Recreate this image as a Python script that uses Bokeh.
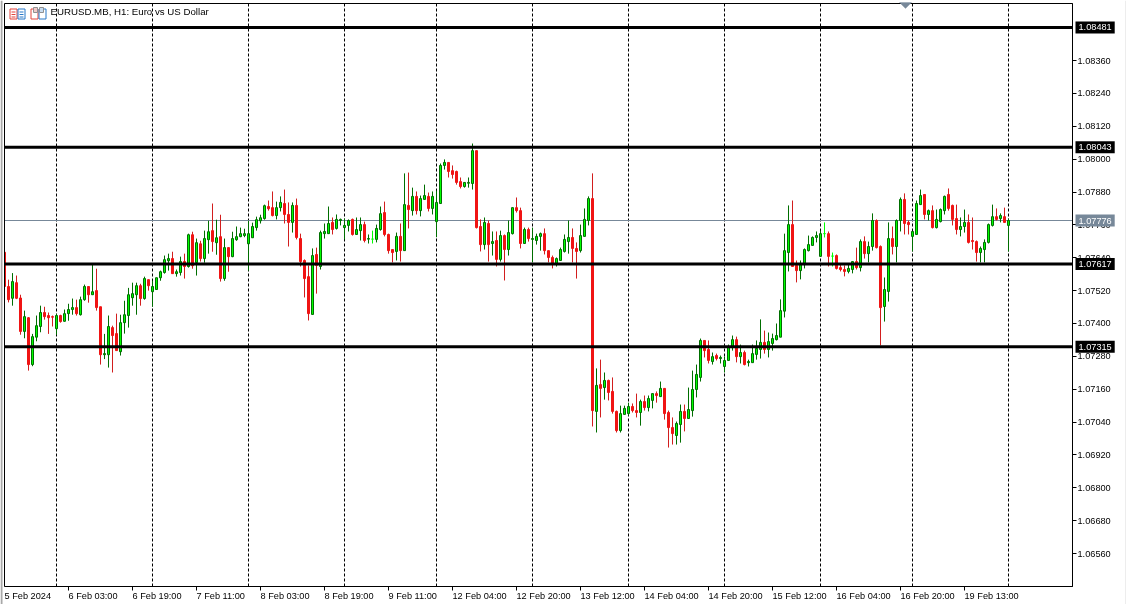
from bokeh.plotting import figure
from bokeh.models import (ColumnDataSource, Range1d, Label, LabelSet, FixedTicker,
                          BoxAnnotation, PolyAnnotation, NumeralTickFormatter)
from bokeh.core.properties import value
from bokeh.embed import file_html
from bokeh.resources import INLINE
import numpy as np

# Prices in points (1e-5); first bar is index -1
highs = [
107666,107560,107584,107575,107505,107447,107423,107362,107429,107465,
107461,107440,107429,107435,107432,107451,107472,107491,107487,107498,
107542,107535,107615,107600,107461,107362,107429,107392,107436,107432,
107483,107530,107549,107549,107545,107571,107560,107556,107567,107593,
107648,107655,107662,107597,107644,107655,107728,107735,107710,107702,
107739,107775,107838,107779,107797,107710,107677,107735,107754,107750,
107746,107775,107768,107790,107797,107834,107849,107882,107845,107864,
107889,107842,107842,107856,107728,107634,107612,107674,107677,107739,
107765,107827,107787,107798,107783,107783,107780,107783,107787,107787,
107772,107725,107739,107761,107827,107845,107728,107670,107732,107765,
107948,107951,107896,107882,107867,107907,107878,107882,107885,107984,
107999,107988,107977,107958,107933,107915,107933,108057,108031,107780,
107787,107776,107736,107736,107739,107725,107776,107823,107860,107823,
107750,107750,107750,107728,107732,107747,107666,107648,107641,107677,
107725,107776,107747,107696,107761,107820,107864,107948,107236,107268,
107221,107195,107203,107082,107100,107100,107111,107108,107144,107122,
107137,107137,107144,107152,107188,107163,107082,107057,107042,107104,
107104,107166,107228,107250,107345,107338,107338,107294,107290,107283,
107279,107323,107356,107352,107323,107301,107268,107323,107338,107415,
107374,107367,107363,107400,107488,107728,107831,107849,107630,107630,
107674,107721,107718,107736,107739,107769,107736,107659,107652,107619,
107612,107615,107626,107677,107707,107718,107699,107802,107780,107685,
107568,107769,107754,107780,107860,107875,107776,107736,107849,107889,
107871,107816,107831,107816,107820,107867,107893,107834,107834,107787,
107816,107798,107787,107703,107681,107707,107765,107834,107820,107802,
107823,107783]
opens = [
107660,107535,107492,107549,107493,107371,107421,107250,107350,107389,
107440,107429,107425,107381,107429,107408,107436,107451,107458,107432,
107487,107535,107505,107520,107461,107286,107286,107385,107363,107297,
107403,107429,107494,107505,107538,107491,107560,107516,107524,107567,
107586,107629,107637,107582,107586,107626,107608,107724,107622,107691,
107637,107706,107739,107695,107717,107564,107677,107644,107706,107717,
107721,107691,107713,107750,107775,107783,107827,107823,107794,107823,
107838,107798,107769,107831,107710,107630,107571,107433,107652,107608,
107728,107728,107769,107747,107776,107750,107758,107780,107725,107739,
107761,107708,107708,107707,107743,107805,107725,107670,107663,107718,
107666,107831,107812,107864,107812,107853,107864,107820,107772,107838,
107977,107988,107958,107955,107918,107900,107912,107911,108031,107754,
107688,107765,107692,107703,107634,107721,107670,107728,107823,107812,
107692,107743,107707,107703,107718,107728,107666,107641,107619,107630,
107663,107699,107714,107674,107666,107718,107776,107856,107079,107177,
107166,107192,107152,107079,107009,107068,107071,107097,107082,107075,
107115,107093,107119,107144,107133,107163,107075,107020,106991,107031,
107079,107053,107082,107159,107203,107338,107305,107261,107283,107272,
107243,107265,107312,107341,107279,107294,107257,107257,107287,107305,
107331,107305,107327,107341,107350,107445,107659,107761,107612,107593,
107615,107666,107685,107714,107645,107728,107728,107646,107648,107604,
107597,107590,107597,107626,107604,107699,107655,107681,107776,107681,
107462,107517,107710,107681,107776,107853,107769,107718,107725,107834,
107871,107798,107812,107750,107772,107812,107871,107831,107783,107743,
107754,107769,107703,107699,107659,107670,107696,107758,107790,107783,
107790,107758]
closes = [
107535,107487,107553,107492,107371,107425,107250,107352,107392,107440,
107425,107421,107423,107429,107407,107436,107451,107458,107436,107487,
107535,107505,107516,107458,107286,107290,107389,107356,107301,107403,
107432,107505,107509,107538,107491,107564,107538,107535,107567,107589,
107633,107637,107582,107589,107626,107608,107724,107611,107695,107637,
107710,107735,107699,107713,107564,107677,107644,107710,107717,107728,
107728,107728,107754,107779,107786,107830,107819,107794,107823,107842,
107798,107769,107831,107714,107626,107564,107436,107648,107612,107732,
107736,107765,107743,107780,107780,107758,107776,107725,107743,107761,
107703,107710,107708,107747,107801,107725,107666,107659,107718,107666,
107834,107816,107864,107812,107856,107867,107820,107864,107842,107977,
107988,107955,107944,107915,107900,107915,107915,108031,107750,107688,
107769,107688,107699,107634,107721,107670,107732,107823,107812,107692,
107743,107710,107710,107718,107728,107666,107641,107619,107637,107670,
107707,107714,107674,107663,107721,107780,107856,107082,107174,107163,
107192,107148,107079,107009,107071,107090,107097,107082,107075,107115,
107093,107126,107144,107137,107163,107071,107020,106998,107035,107079,
107053,107086,107159,107214,107338,107301,107265,107279,107272,107276,
107265,107312,107341,107279,107294,107250,107261,107290,107309,107331,
107305,107334,107345,107356,107447,107666,107761,107608,107593,107615,
107670,107688,107714,107721,107728,107728,107645,107646,107601,107597,
107590,107601,107626,107604,107699,107655,107681,107776,107677,107458,
107524,107710,107681,107776,107853,107765,107761,107736,107838,107867,
107798,107812,107750,107780,107816,107864,107820,107780,107743,107754,
107769,107696,107699,107659,107674,107696,107761,107790,107780,107794,
107769,107776]
lows = [
107530,107477,107465,107489,107359,107346,107228,107244,107335,107368,
107414,107362,107389,107359,107403,107407,107410,107432,107429,107429,
107483,107476,107505,107447,107250,107270,107239,107221,107301,107283,
107363,107385,107465,107432,107465,107487,107520,107461,107524,107556,
107582,107593,107582,107571,107575,107564,107604,107600,107575,107626,
107622,107655,107662,107651,107553,107556,107589,107642,107702,107715,
107715,107593,107713,107739,107765,107779,107812,107791,107780,107809,
107765,107681,107732,107707,107608,107495,107411,107433,107509,107597,
107710,107728,107725,107743,107758,107707,107736,107721,107725,107703,
107696,107692,107692,107696,107739,107718,107655,107623,107630,107626,
107666,107747,107794,107798,107791,107853,107809,107798,107715,107838,
107962,107933,107929,107907,107893,107896,107896,107889,107747,107663,
107670,107626,107648,107608,107626,107557,107648,107725,107805,107674,
107692,107699,107623,107688,107666,107652,107623,107601,107608,107630,
107659,107655,107623,107564,107659,107718,107758,107024,107002,107057,
107122,107119,107071,107002,107002,107068,107064,107075,107057,107027,
107082,107079,107090,107111,107133,107049,106947,106958,106958,106965,
107006,107053,107060,107130,107188,107276,107254,107250,107265,107254,
107221,107265,107301,107258,107254,107247,107243,107257,107268,107272,
107290,107276,107301,107338,107350,107422,107590,107608,107550,107561,
107601,107663,107685,107696,107645,107714,107608,107608,107597,107590,
107572,107583,107583,107597,107590,107637,107623,107666,107674,107320,
107407,107480,107652,107623,107736,107725,107725,107663,107725,107834,
107780,107776,107747,107747,107769,107798,107812,107758,107725,107718,
107732,107692,107670,107626,107623,107623,107692,107754,107776,107769,
107769,107663]

level_prices = [1.08481, 1.08043, 1.07617, 1.07315]
last_price = 1.07776
price_ticks = [1.08360,1.08240,1.08120,1.08000,1.07880,1.07760,1.07640,1.07520,
               1.07400,1.07280,1.07160,1.07040,1.06920,1.06800,1.06680,1.06560]
time_bars = [-1,15,31,47,63,79,95,111,127,143,159,175,191,207,223,239]
time_labels = ["5 Feb 2024","6 Feb 03:00","6 Feb 19:00","7 Feb 11:00","8 Feb 03:00","8 Feb 19:00",
               "9 Feb 11:00","12 Feb 04:00","12 Feb 20:00","13 Feb 12:00","14 Feb 04:00","14 Feb 20:00",
               "15 Feb 12:00","16 Feb 04:00","16 Feb 20:00","19 Feb 13:00"]
separator_bars = [12,36,60,84,107,131,155,179,203,226,250]
title_text = "EURUSD.MB, H1:  Euro vs US Dollar"

FONT = "Liberation Sans"
TICK_SIZE = "9.2px"
UP_FILL, UP_LINE, DOWN = "#00ff00", "#006e00", "#f01414"
DOJI = "#00ff00"

O, H, L, C = [np.array(a) / 1e5 for a in (opens, highs, lows, closes)]
idx = np.arange(-1, len(opens) - 1)
body_line = [UP_LINE if c > o else (DOWN if c < o else DOJI) for o, c in zip(opens, closes)]
body_fill = [UP_FILL if c > o else (DOWN if c < o else DOJI) for o, c in zip(opens, closes)]
wick = [UP_LINE if c > o else ("#d21e1e" if c < o else DOJI) for o, c in zip(opens, closes)]
src = ColumnDataSource(dict(x=idx, o=O, h=H, l=L, c=C,
                            top=np.maximum(O, C), bottom=np.minimum(O, C),
                            line=body_line, fill=body_fill, wick=wick))

W, HT = 1126, 604
PX_X = 4.0                 # pixels per bar
PX_Y = 3.651e-5            # price per pixel
def xd(px):
    return (px - 8) / PX_X
def yd(py):
    return last_price - (py - 220) * PX_Y

# The plot area fills the page, the chart's box sits inside it, so that tags and labels beside the box are shown
X0, X1 = xd(0), xd(W)
Y0, Y1 = yd(HT), yd(0)
FR_L, FR_R, FR_T, FR_B = xd(4), xd(1072), yd(3), yd(586)

p = figure(width=W, height=HT, output_backend="svg", toolbar_location=None,
           x_range=Range1d(X0, X1), y_range=Range1d(Y0, Y1),
           min_border_left=0, min_border_right=0, min_border_top=0, min_border_bottom=0,
           y_axis_location="right", background_fill_color="white", border_fill_color="white")
p.styles = {"position": "fixed", "left": "0px", "top": "0px"}
p.grid.visible = False
p.outline_line_color = None

ax = p.yaxis[0]
ax.fixed_location = FR_R
ax.bounds = (FR_B, FR_T)
ax.ticker = FixedTicker(ticks=price_ticks)
ax.formatter = NumeralTickFormatter(format="0.00000")
ax.major_tick_in = 0
ax.major_tick_out = 4
ax.minor_tick_line_color = None
ax.major_label_standoff = 1
ax.major_label_text_font = FONT
ax.major_label_text_font_size = TICK_SIZE
ax.major_label_text_color = "black"
ax.axis_line_color = "black"
ax.major_tick_line_color = "black"

bx = p.xaxis[0]
bx.fixed_location = FR_B
bx.bounds = (FR_L, FR_R)
bx.ticker = FixedTicker(ticks=time_bars[1:])
bx.major_tick_in = 0
bx.major_tick_out = 4
bx.minor_tick_line_color = None
bx.major_label_text_color = None
bx.major_label_text_font_size = "1px"
bx.axis_line_color = "black"
bx.major_tick_line_color = "black"

n_sep = len(separator_bars)
p.segment(separator_bars, [FR_B] * n_sep, separator_bars, [FR_T] * n_sep,
          line_color="black", line_width=1, line_dash="3 2")
p.segment([FR_L], [last_price], [FR_R], [last_price], line_color="#778899", line_width=1)

p.segment("x", "h", "x", "l", source=src, line_color="wick", line_width=1)
p.vbar("x", width=0.5, top="top", bottom="bottom", source=src,
       fill_color="fill", line_color="line", line_width=1)

n_lv = len(level_prices)
p.segment([FR_L] * n_lv, level_prices, [FR_R] * n_lv, level_prices,
          line_color="black", line_width=3, line_cap="butt")

def box(l, r, t, b, fill, line=None, fill_alpha=1):
    p.add_layout(BoxAnnotation(left=l, right=r, top=t, bottom=b, left_units="canvas", right_units="canvas",
                               top_units="canvas", bottom_units="canvas", fill_color=fill, fill_alpha=fill_alpha,
                               line_color=line, line_alpha=1, line_width=1))

# margin left of the chart's box, window edges, then the box itself
box(0, 4, 0, HT, "white")
box(0, 2, 0, HT, "#a8a8a8")
box(W - 1, W, 0, HT, "#dcdcdc")
box(4, 1072, 3, 586, "white", "black", fill_alpha=0)

def price_tag(price, bg):
    p.add_layout(Label(x=xd(1075), y=price, text=f"{price:.5f}", text_color="white",
                       text_font=FONT, text_font_size=TICK_SIZE, text_baseline="middle",
                       background_fill_color=bg, padding=3))
for lv in level_prices:
    price_tag(lv, "black")
price_tag(last_price, "#778899")

p.add_layout(LabelSet(x="x", y="y", text="t",
                      source=ColumnDataSource(dict(x=time_bars, y=[yd(595)] * len(time_bars), t=time_labels)),
                      text_font=value(FONT), text_font_size=value(TICK_SIZE), text_color="black",
                      text_baseline="middle", text_align="left"))

p.add_layout(Label(x=xd(50), y=yd(11), text=title_text,
                   text_font=FONT, text_font_size="9.7px", text_color="black", text_baseline="middle"))

RED, BLUE = "#e4443c", "#2878c8"
box(9.5, 16.5, 8.5, 18.5, "white", RED)
box(17.5, 24.5, 8.5, 18.5, "white", BLUE)
for yy in (11, 13.5, 16):
    box(11, 15, yy, yy + 1, RED)
    box(19, 23, yy, yy + 1, BLUE)
box(30.5, 37.5, 8.5, 18.5, "white", RED)
box(38.5, 45.5, 8.5, 18.5, "white", BLUE)
box(33, 37, 7, 12, "#f0c8c8", "#909090")
box(39, 43, 7, 12, "#c8dcf0", "#909090")

p.add_layout(PolyAnnotation(xs=[899, 911, 905], ys=[2, 2, 8], xs_units="canvas", ys_units="canvas",
                            fill_color="#778899", fill_alpha=1, line_color="#778899", level="overlay"))

with open("out.html", "w") as f:
    f.write(file_html(p, INLINE))
